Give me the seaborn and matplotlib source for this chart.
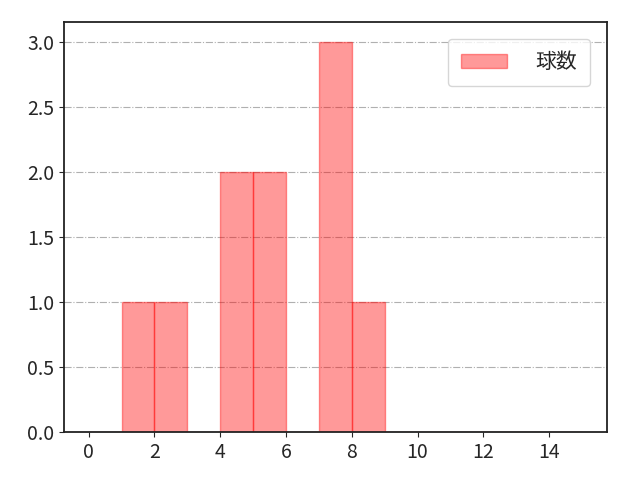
import numpy as np
import pandas as pd
import matplotlib
matplotlib.use('Agg')
import matplotlib.pyplot as plt
import seaborn as sns

# 球数の値 (各打席)
pitch_counts = [1, 2, 4, 4, 5, 5, 7, 7, 7, 8]
bin_edges = list(range(0, 16))
label = '球数'

sns.set_style('ticks')
plt.rcParams['font.family'] = ['Noto Sans CJK JP', 'DejaVu Sans']

df = pd.DataFrame({label: pitch_counts})

fig, ax = plt.subplots(figsize=(6.4, 4.8), dpi=100)
sns.histplot(data=df, x=label, bins=bin_edges, color='red',
             edgecolor='red', linewidth=1, label=label, ax=ax)
# 面と枠の両方を半透明に
for p in ax.patches:
    p.set_alpha(0.4)
ax.set_xlabel('')
ax.set_ylabel('')
ax.set_xticks(range(0, 15, 2))
ax.grid(axis='y', linestyle='-.', color='#b0b0b0')
ax.set_axisbelow(True)
for s in ax.spines.values():
    s.set_visible(True)
    s.set_color('#222222')
    s.set_linewidth(1.3)
    s.set_zorder(3)
ax.legend(loc='upper right', fontsize=15, handlelength=2.2, handletextpad=1.4,
          borderpad=0.6, borderaxespad=0.8)
ax.tick_params(labelsize=14)
fig.subplots_adjust(left=0.1, right=0.948, top=0.954, bottom=0.1)
fig.savefig('out.png')
